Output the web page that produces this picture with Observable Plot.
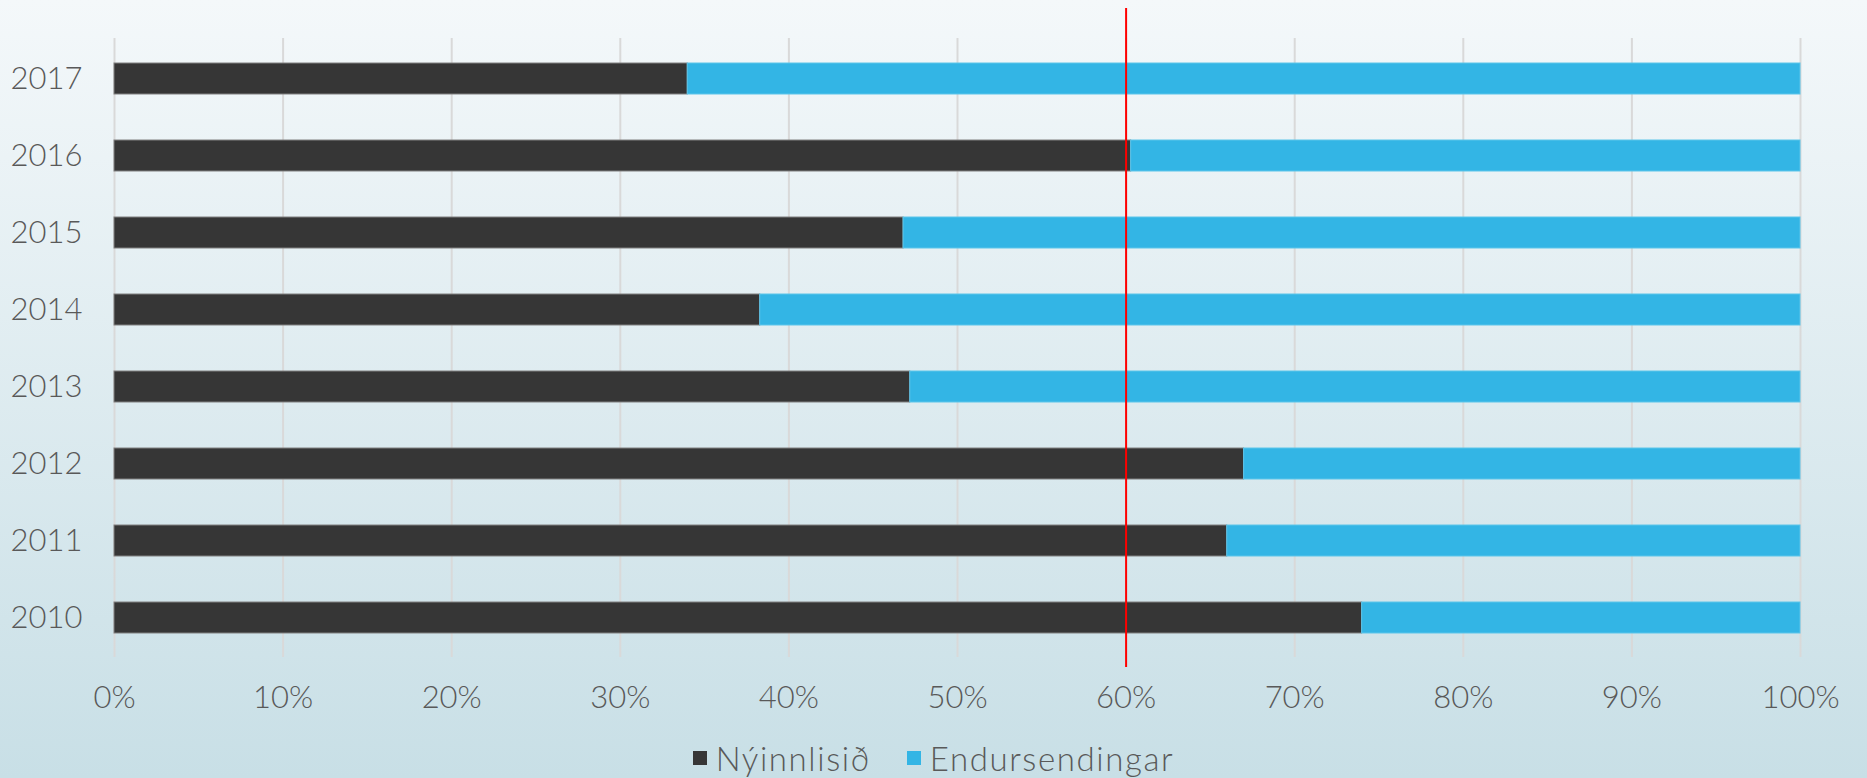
<!DOCTYPE html>
<html>
<head>
<meta charset="utf-8">
<script src="https://cdn.jsdelivr.net/npm/d3@7"></script>
<script src="https://cdn.jsdelivr.net/npm/@observablehq/plot@0.6"></script>
<style>
  html, body { margin: 0; padding: 0; }
  body {
    width: 1867px; height: 778px; overflow: hidden;
    background: linear-gradient(to bottom, #f4f8fa 0%, #c8dfe6 100%);
    font-family: "Lato", "Open Sans", sans-serif;
  }
  #chart svg { display: block; background: transparent; }
  #legend {
    position: absolute; top: 738px; left: 0; width: 1867px;
    display: flex; justify-content: center; gap: 36px;
    font-size: 33px; color: #595959; font-weight: 300; letter-spacing: 1.6px;
  }
  .item { display: flex; align-items: center; gap: 9px; }
  .sw { width: 14px; height: 14px; display: inline-block; }
</style>
</head>
<body>
<div id="chart"></div>
<div id="legend"></div>
<script>
const years = ["2010", "2011", "2012", "2013", "2014", "2015", "2016", "2017"];
const nyinnlisid = [74.0, 66.0, 67.0, 47.2, 38.3, 46.8, 60.3, 34.0];
const endursendingar = [26.0, 34.0, 33.0, 52.8, 61.7, 53.2, 39.7, 66.0];
const seriesNames = ["Nýinnlisið", "Endursendingar"];
const seriesColors = ["#363636", "#33b5e5"];
const seriesStrokes = ["#808080", "#5cc5ea"];
const xTicks = [0, 10, 20, 30, 40, 50, 60, 70, 80, 90, 100];
const referenceValue = 60;

const rows = [];
years.forEach((y, i) => {
  rows.push({year: y, series: seriesNames[0], value: nyinnlisid[i]});
  rows.push({year: y, series: seriesNames[1], value: endursendingar[i]});
});

const chart = Plot.plot({
  width: 1867,
  height: 728,
  marginLeft: 114,
  marginRight: 67,
  marginTop: 38,
  marginBottom: 71,
  style: {fontFamily: "Lato, 'Open Sans', sans-serif", fontSize: "31px", color: "#595959", background: "transparent", fontWeight: 300},
  x: {domain: [0, 100], ticks: xTicks, tickFormat: d => d + "%", tickSize: 0, tickPadding: 28, label: null},
  y: {domain: years.slice().reverse(), paddingInner: 0.6, paddingOuter: 0.3, tickSize: 0, tickPadding: 32, label: null},
  color: {domain: seriesNames, range: seriesColors},
  marks: [
    Plot.ruleX(xTicks, {stroke: "#d9d9d9", strokeWidth: 2}),
    Plot.barX(rows, Plot.stackX({
      x: "value", y: "year", fill: "series", order: seriesNames,
      stroke: d => d.series === seriesNames[0] ? seriesStrokes[0] : seriesStrokes[1],
      strokeWidth: 1
    })),
    Plot.ruleX([referenceValue], {stroke: "#ff0000", strokeWidth: 2, insetTop: -30, insetBottom: -10}),
    Plot.axisX({ticks: xTicks, tickFormat: d => d + "%", tickSize: 0, tickPadding: 28, fill: "#595959"}),
    Plot.axisY({tickSize: 0, tickPadding: 32, fill: "#595959"})
  ]
});
document.getElementById("chart").appendChild(chart);

const legend = document.getElementById("legend");
seriesNames.forEach((name, i) => {
  const item = document.createElement("div");
  item.className = "item";
  const sw = document.createElement("span");
  sw.className = "sw";
  sw.style.background = seriesColors[i];
  const t = document.createElement("span");
  t.textContent = name;
  item.appendChild(sw);
  item.appendChild(t);
  legend.appendChild(item);
});
</script>
</body>
</html>
